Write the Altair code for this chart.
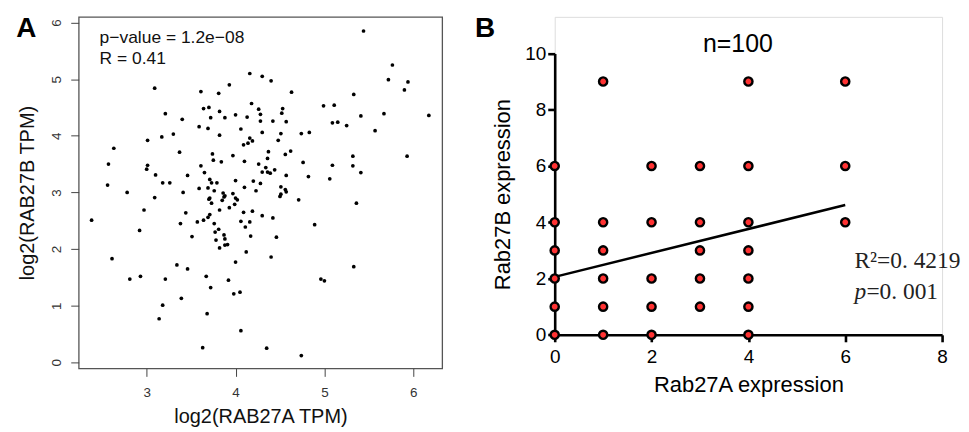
import altair as alt
import pandas as pd

# ---------------- Panel A data (log2 TPM) ----------------
a_x = [5.44, 5.765, 5.72, 5.94, 5.90, 6.175, 5.93, 5.33, 5.41, 5.67, 5.57, 5.25, 5.15, 5.09, 5.11,
       4.99, 5.32, 5.32, 5.41, 5.09, 5.06, 5.36, 5.33, 4.96, 5.00, 4.89, 4.74, 4.35, 4.06, 3.63,
       3.68, 3.39, 3.14, 3.18, 3.21, 2.81, 2.93, 2.61, 2.38, 2.92, 2.97, 2.78, 2.56, 2.57, 2.63,
       3.01, 3.00, 3.01, 3.09, 3.10, 3.09, 3.17, 3.18, 3.26, 3.21, 3.30, 3.40, 3.37, 3.41, 3.46,
       3.44, 3.38, 3.51, 3.34, 3.46, 3.59, 3.61, 3.64, 3.70, 3.69, 3.72, 3.81, 3.82, 3.88, 3.82,
       3.93, 4.00, 4.06, 4.13, 4.16, 4.18, 4.30, 4.40, 4.26, 4.28, 4.28, 4.42, 4.30, 4.53, 4.52,
       4.57, 4.63, 4.51, 4.48, 4.74, 4.83, 4.09, 4.14, 4.16, 4.19, 3.74, 3.75, 3.84, 3.61, 3.65,
       3.59, 3.71, 3.73, 3.79, 3.69, 3.76, 3.70, 3.73, 3.71, 3.86, 3.87, 3.88, 3.85, 3.97, 4.00,
       3.97, 4.00, 4.02, 3.99, 3.93, 3.82, 3.71, 3.69, 3.64, 3.57, 3.76, 3.81, 3.77, 3.87, 3.78,
       3.88, 3.88, 3.91, 3.82, 4.00, 3.67, 3.72, 3.92, 3.98, 4.05, 4.10, 4.10, 4.09, 4.06, 4.11,
       4.16, 4.19, 4.17, 4.12, 4.20, 4.23, 4.26, 4.28, 4.30, 4.34, 4.36, 4.37, 4.36, 4.39, 4.44,
       4.30, 4.42, 4.46, 4.40, 4.56, 4.62, 4.57, 4.51, 4.56, 4.57, 4.51, 4.50, 4.71, 4.76, 4.82]
a_y = [5.85, 5.25, 4.99, 4.95, 4.81, 4.36, 3.64, 4.73, 4.35, 4.39, 4.09, 4.18, 4.24, 4.23, 4.54,
       4.53, 3.64, 3.47, 3.35, 3.48, 3.24, 2.81, 1.69, 1.47, 1.44, 2.43, 0.12, 0.25, 0.56, 0.26,
       0.86, 1.13, 0.77, 1.01, 1.47, 1.47, 1.52, 1.83, 2.51, 2.33, 2.69, 3.00, 3.13, 3.50, 3.78,
       3.92, 3.41, 3.48, 2.91, 3.31, 4.84, 3.98, 3.17, 3.17, 4.39, 4.03, 4.29, 3.71, 3.00, 3.30,
       2.64, 2.45, 2.22, 1.72, 1.65, 4.16, 4.78, 4.48, 4.50, 4.13, 4.32, 4.75, 4.43, 4.32, 4.01,
       4.90, 4.37, 4.12, 4.33, 5.10, 4.57, 5.05, 4.97, 4.47, 4.38, 4.26, 4.26, 4.06, 4.48, 4.40,
       4.25, 4.77, 4.04, 3.92, 4.04, 4.06, 3.84, 3.87, 3.96, 3.91, 3.68, 3.57, 3.54, 3.47, 3.35,
       3.07, 3.23, 3.17, 3.17, 3.08, 3.03, 2.88, 2.81, 2.90, 2.99, 2.92, 2.94, 2.86, 3.65, 3.21,
       2.98, 2.90, 2.87, 2.79, 2.73, 2.69, 2.61, 2.56, 2.51, 2.48, 2.45, 2.35, 2.30, 2.25, 2.16,
       2.18, 2.07, 2.08, 2.02, 1.77, 1.52, 1.32, 1.45, 1.21, 1.24, 3.55, 3.09, 2.65, 2.49, 2.39,
       2.48, 2.67, 2.23, 1.95, 3.20, 3.03, 3.50, 3.16, 3.36, 3.44, 3.60, 3.72, 3.36, 3.34, 3.40,
       2.59, 2.55, 2.21, 1.86, 3.67, 3.73, 3.30, 3.10, 3.05, 3.01, 2.97, 2.93, 2.87, 3.53, 3.28]
a_annot = ["p\u2212value = 1.2e\u221208", "R = 0.41"]

# ---------------- Panel B data ----------------
b_x = [0, 0, 0, 0, 0, 0, 1, 1, 1, 1, 1, 1, 2, 2, 2, 2, 2, 3, 3, 3, 3, 3, 4, 4, 4, 4, 4, 4, 4, 6, 6, 6]
b_y = [0, 1, 2, 3, 4, 6, 0, 1, 2, 3, 4, 9, 0, 1, 2, 4, 6, 1, 2, 3, 4, 6, 0, 1, 2, 3, 4, 6, 9, 4, 6, 9]
fit_x = [0, 6]
fit_y = [2.06, 4.61]
b_title = "n=100"
b_r2 = "R\u00b2=0. 4219"
b_p = "=0. 001"

dfa = pd.DataFrame({"x": a_x, "y": a_y})
dfb = pd.DataFrame({"x": b_x, "y": b_y})
dff = pd.DataFrame({"x": fit_x, "y": fit_y})
one = pd.DataFrame({"k": [0]})

SANS = "Liberation Sans"
SERIF = "Liberation Serif"


def label(text, x, y, **kw):
    return alt.Chart(one).mark_text(**kw).encode(
        x=alt.value(x), y=alt.value(y), text=alt.value(text))


# ---------------- Panel A ----------------
ax_a = dict(grid=False, domain=False, tickColor="#444", tickSize=8, tickWidth=1,
            labelFont=SANS, labelFontSize=13.5, labelColor="#333", labelFlush=False,
            titleFont=SANS, titleFontSize=20, titleFontWeight="normal", titleColor="#111")

pa_pts = alt.Chart(dfa).mark_circle(size=14, color="black", opacity=1).encode(
    x=alt.X("x:Q", scale=alt.Scale(domain=[2.235, 6.325], nice=False, zero=False),
            axis=alt.Axis(values=[3, 4, 5, 6], title="log2(RAB27A TPM)", labelPadding=9,
                          titlePadding=8, **ax_a)),
    y=alt.Y("y:Q", scale=alt.Scale(domain=[-0.106, 6.10], nice=False, zero=False),
            axis=alt.Axis(values=[0, 1, 2, 3, 4, 5, 6], title="log2(RAB27B TPM)", labelAngle=270,
                          labelPadding=7, titlePadding=12, **ax_a)),
)
txt_a = dict(font=SANS, fontSize=17.5, align="left", baseline="alphabetic", color="#111")
pa_t1 = label(a_annot[0], 21, 26, **txt_a)
pa_t2 = label(a_annot[1], 21, 47, **txt_a)
pa_lab = label("A", -52.5, 12, font=SANS, fontSize=28, fontWeight="bold", align="center",
               baseline="middle", color="black")

panel_a = alt.layer(pa_pts, pa_t1, pa_t2, pa_lab).properties(
    width=365, height=353, view=alt.ViewBackground(stroke="#555", strokeWidth=1.3))

# ---------------- Panel B ----------------
ax_b = dict(grid=False, domainColor="black", domainWidth=2.6, tickColor="black", tickWidth=2.6,
            tickSize=7, labelFont=SANS, labelFontSize=19, labelColor="black", labelFlush=False,
            titleFont=SANS, titleFontSize=22, titleFontWeight="normal", titleColor="black")

HB = 319.3  # view from A's top to B's x axis
pb_pts = alt.Chart(dfb).mark_point(filled=True, shape="circle", size=68, fill="#ff3232",
                                   stroke="black", strokeWidth=2.4, opacity=1).encode(
    x=alt.X("x:Q", scale=alt.Scale(domain=[0, 8], nice=False),
            axis=alt.Axis(values=[0, 2, 4, 6, 8], title="Rab27A expression", labelPadding=6,
                          titlePadding=8, **ax_b)),
    y=alt.Y("y:Q", scale=alt.Scale(domain=[0, 10], nice=False, range=[HB, 36.7]),
            axis=alt.Axis(values=[0, 2, 4, 6, 8, 10], title="Rab27B expression", labelPadding=2,
                          titlePadding=10, **ax_b)),
)
pb_line = alt.Chart(dff).mark_line(color="black", strokeWidth=2.5).encode(
    x=alt.X("x:Q"), y=alt.Y("y:Q"))
pb_title = label(b_title, 184, 27, font=SANS, fontSize=25, align="center", baseline="middle",
                 color="black")
txt_b = dict(font=SERIF, fontSize=23.5, align="left", baseline="middle", color="#222")
pb_r2 = label(b_r2, 301, 245, **txt_b)
pb_pi = label("p", 301, 276, fontStyle="italic", **txt_b)
pb_pv = label(b_p, 313, 276, **txt_b)
pb_lab = label("B", -70, 12, font=SANS, fontSize=28, fontWeight="bold", align="center",
               baseline="middle", color="black")

panel_b = alt.layer(pb_line, pb_pts, pb_title, pb_r2, pb_pi, pb_pv, pb_lab).properties(
    width=389, height=HB)

chart = alt.hconcat(panel_a, panel_b, spacing=31).properties(
    padding={"left": 7, "top": 5, "right": 0, "bottom": 0}
).configure_view(strokeWidth=0).configure(background="white")

chart.save("out.html", embed_options={"renderer": "svg", "actions": False})
